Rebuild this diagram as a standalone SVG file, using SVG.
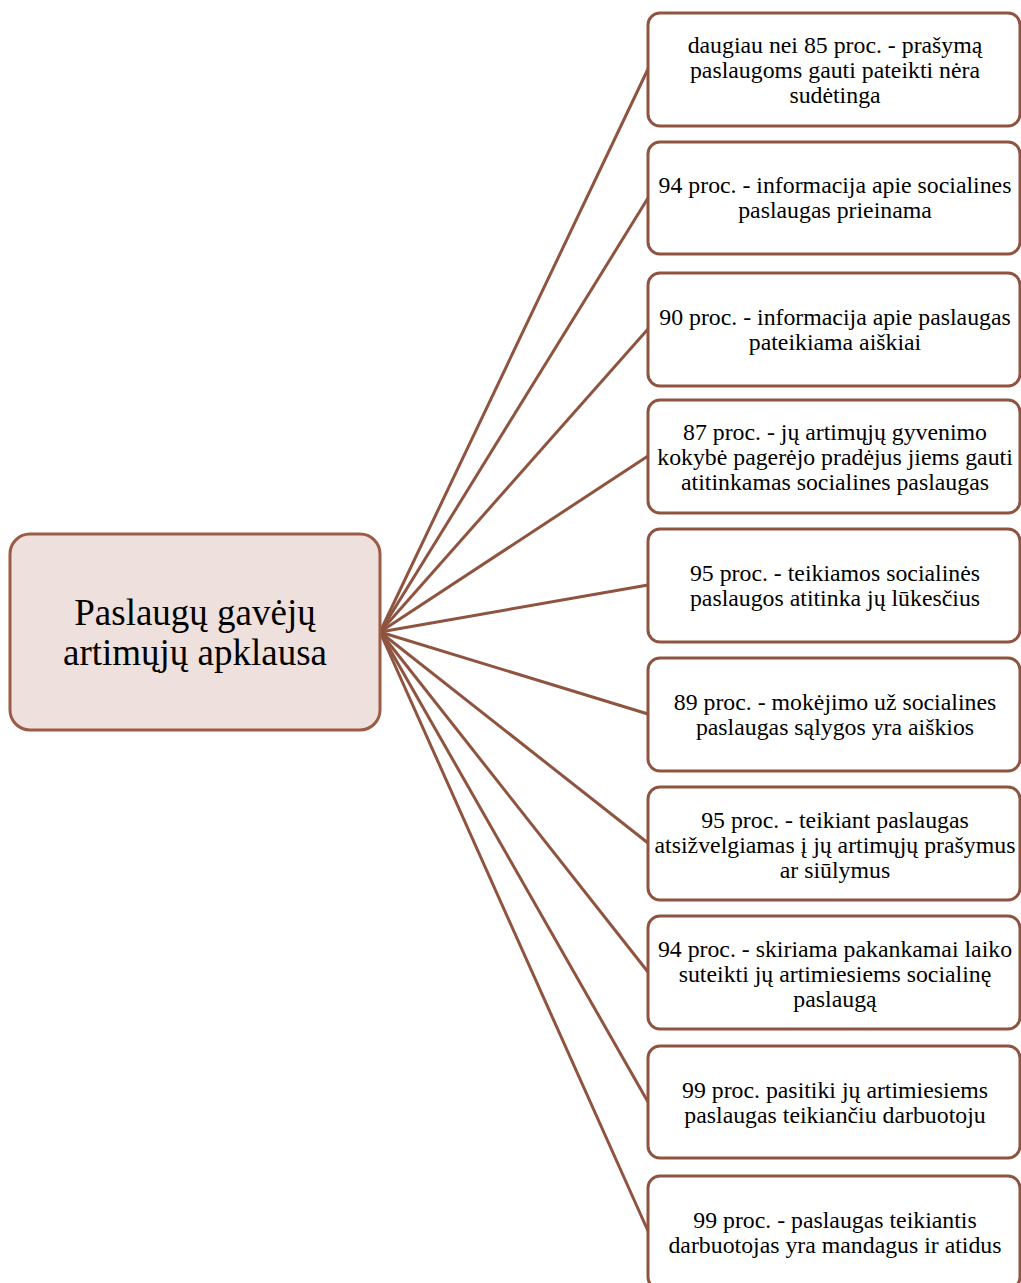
<svg xmlns="http://www.w3.org/2000/svg" width="1021" height="1283" viewBox="0 0 1021 1283">
<style>
.box{fill:#fff;stroke:#8e5440;stroke-width:3}
.center{fill:#eee0dc;stroke:#9b5c47;stroke-width:3}
.t{font-family:"Liberation Serif","Times New Roman",serif;font-size:23.8px;fill:#000;text-anchor:middle}
.ct{font-family:"Liberation Serif","Times New Roman",serif;font-size:37px;fill:#000;text-anchor:middle}
.c{stroke:#8e5440;stroke-width:3;fill:none}
</style>
<rect width="1021" height="1283" fill="#fff"/>
<g id="connectors">
<line class="c" x1="380" y1="632" x2="648" y2="69"/>
<line class="c" x1="380" y1="632" x2="648" y2="198"/>
<line class="c" x1="380" y1="632" x2="648" y2="329"/>
<line class="c" x1="380" y1="632" x2="648" y2="456"/>
<line class="c" x1="380" y1="632" x2="648" y2="585"/>
<line class="c" x1="380" y1="632" x2="648" y2="714"/>
<line class="c" x1="380" y1="632" x2="648" y2="843"/>
<line class="c" x1="380" y1="632" x2="648" y2="972"/>
<line class="c" x1="380" y1="632" x2="648" y2="1102"/>
<line class="c" x1="380" y1="632" x2="648" y2="1231"/>
</g>
<g id="center">
<rect class="center" x="10" y="534" width="370" height="196" rx="20"/>
<text class="ct" x="195" y="625">Paslaugų gavėjų</text>
<text class="ct" x="195" y="665">artimųjų apklausa</text>
</g>
<g id="n1">
<rect class="box" x="648" y="13" width="372" height="113" rx="12"/>
<text class="t" x="835" y="53">daugiau nei 85 proc. - prašymą</text>
<text class="t" x="835" y="78">paslaugoms gauti pateikti nėra</text>
<text class="t" x="835" y="103">sudėtinga</text>
</g>
<g id="n2">
<rect class="box" x="648" y="142" width="372" height="112" rx="12"/>
<text class="t" x="835" y="193">94 proc. - informacija apie socialines</text>
<text class="t" x="835" y="218">paslaugas prieinama</text>
</g>
<g id="n3">
<rect class="box" x="648" y="273" width="372" height="113" rx="12"/>
<text class="t" x="835" y="325">90 proc. - informacija apie paslaugas</text>
<text class="t" x="835" y="350">pateikiama aiškiai</text>
</g>
<g id="n4">
<rect class="box" x="648" y="400" width="372" height="113" rx="12"/>
<text class="t" x="835" y="440">87 proc. - jų artimųjų gyvenimo</text>
<text class="t" x="835" y="465">kokybė pagerėjo pradėjus jiems gauti</text>
<text class="t" x="835" y="490">atitinkamas socialines paslaugas</text>
</g>
<g id="n5">
<rect class="box" x="648" y="529" width="372" height="113" rx="12"/>
<text class="t" x="835" y="581">95 proc. - teikiamos socialinės</text>
<text class="t" x="835" y="606">paslaugos atitinka jų lūkesčius</text>
</g>
<g id="n6">
<rect class="box" x="648" y="658" width="372" height="113" rx="12"/>
<text class="t" x="835" y="710">89 proc. - mokėjimo už socialines</text>
<text class="t" x="835" y="735">paslaugas sąlygos yra aiškios</text>
</g>
<g id="n7">
<rect class="box" x="648" y="787" width="372" height="113" rx="12"/>
<text class="t" x="835" y="828">95 proc. - teikiant paslaugas</text>
<text class="t" x="835" y="853">atsižvelgiamas į jų artimųjų prašymus</text>
<text class="t" x="835" y="878">ar siūlymus</text>
</g>
<g id="n8">
<rect class="box" x="648" y="916" width="372" height="113" rx="12"/>
<text class="t" x="835" y="957">94 proc. - skiriama pakankamai laiko</text>
<text class="t" x="835" y="982">suteikti jų artimiesiems socialinę</text>
<text class="t" x="835" y="1007">paslaugą</text>
</g>
<g id="n9">
<rect class="box" x="648" y="1046" width="372" height="112" rx="12"/>
<text class="t" x="835" y="1098">99 proc. pasitiki jų artimiesiems</text>
<text class="t" x="835" y="1123">paslaugas teikiančiu darbuotoju</text>
</g>
<g id="n10">
<rect class="box" x="648" y="1176" width="372" height="113" rx="12"/>
<text class="t" x="835" y="1228">99 proc. - paslaugas teikiantis</text>
<text class="t" x="835" y="1253">darbuotojas yra mandagus ir atidus</text>
</g>
</svg>
